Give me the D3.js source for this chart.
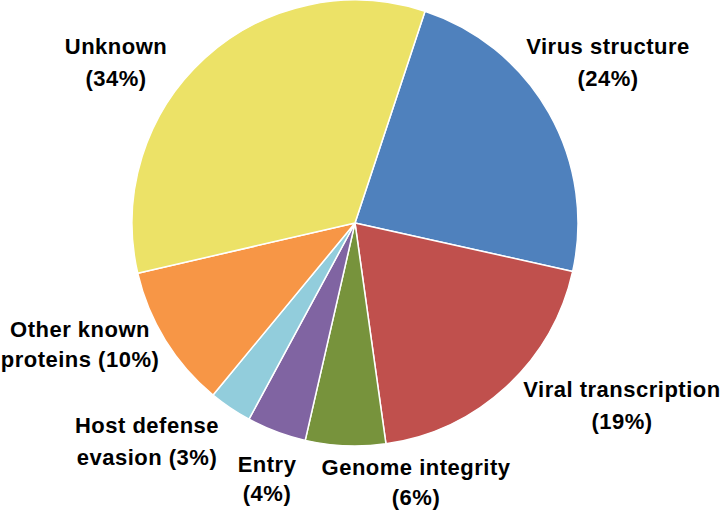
<!DOCTYPE html>
<html>
<head>
<meta charset="utf-8">
<script src="https://cdn.jsdelivr.net/npm/d3@7"></script>
<style>
  html, body { margin: 0; padding: 0; background: #fff; }
  svg { display: block; }
  .pie-label { font-family: "Liberation Sans", Arial, sans-serif; font-weight: bold; font-size: 22px; letter-spacing: 0.5px; fill: #000; }
</style>
</head>
<body>
<div id="chart"></div>
<script>
// slice order is clockwise from the top-right edge
const categories = ["Virus structure", "Viral transcription", "Genome integrity", "Entry", "Host defense evasion", "Other known proteins", "Unknown"];
const values = [23.4, 19.3, 5.8, 4.3, 3.1, 10.4, 33.7];
const percentLabels = ["24%", "19%", "6%", "4%", "3%", "10%", "34%"];
const labelLines = [
  ["Virus structure", "(24%)"],
  ["Viral transcription", "(19%)"],
  ["Genome integrity", "(6%)"],
  ["Entry", "(4%)"],
  ["Host defense", "evasion (3%)"],
  ["Other known", "proteins (10%)"],
  ["Unknown", "(34%)"],
];
const colors = ["#4f81bd", "#c0504d", "#77933c", "#8064a2", "#92cddc", "#f79646", "#ece267"];

const width = 720;
const height = 510;
const cx = 355;
const cy = 223;
const radius = 223;
const startDeg = 18.3;

// label anchor: centre x, first baseline y, line gap
const labelLayout = {
  "Virus structure": [608, 54, 32],
  "Viral transcription": [622, 397, 32],
  "Genome integrity": [416, 475, 30],
  "Entry": [267, 472, 29],
  "Host defense evasion": [147, 433, 32],
  "Other known proteins": [80, 337, 30],
  "Unknown": [116, 54, 32],
};

const svg = d3.select("#chart").append("svg")
  .attr("width", width)
  .attr("height", height);

const data = categories.map((c, i) => ({ category: c, value: values[i], color: colors[i], lines: labelLines[i], pct: percentLabels[i] }));

const start = startDeg * Math.PI / 180;
const pie = d3.pie()
  .sort(null)
  .value(d => d.value)
  .startAngle(start)
  .endAngle(start + 2 * Math.PI);

const arc = d3.arc().innerRadius(0).outerRadius(radius);

const g = svg.append("g").attr("transform", `translate(${cx},${cy})`);

g.selectAll(".arc-path")
  .data(pie(data))
  .join("path")
  .attr("class", "arc-path")
  .attr("fill", d => d.data.color)
  .attr("stroke", "#fff")
  .attr("stroke-width", 1.5)
  .attr("stroke-linejoin", "round")
  .attr("d", arc);

const labels = svg.selectAll(".pie-label")
  .data(data)
  .join("text")
  .attr("class", "pie-label")
  .attr("text-anchor", "middle");

labels.each(function (d) {
  const [x, y, gap] = labelLayout[d.category];
  d3.select(this).selectAll("tspan")
    .data(d.lines)
    .join("tspan")
    .attr("x", x)
    .attr("y", (t, i) => y + i * gap)
    .text(t => t);
});
</script>
</body>
</html>
